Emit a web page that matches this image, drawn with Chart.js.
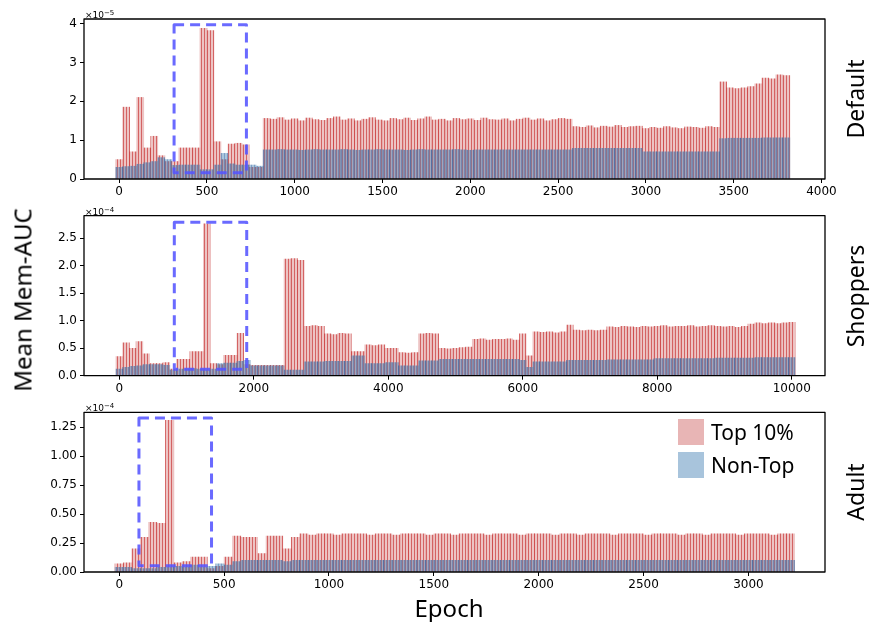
<!DOCTYPE html>
<html>
<head>
<meta charset="utf-8">
<script src="https://cdn.jsdelivr.net/npm/chart.js@4.4.0/dist/chart.umd.min.js"></script>
<style>
  body { margin: 0; background: #fff; }
  #fig { position: relative; width: 869px; height: 622px; background: #fff; font-family: "Noto Sans", sans-serif; color: #000; }
  .panel { position: absolute; left: 0; width: 869px; }
  .rot { position: absolute; transform: translate(-50%, -50%) rotate(-90deg); white-space: nowrap; font-size: 23px; }
  .expo { position: absolute; left: 85px; font-family: "DejaVu Sans", sans-serif; font-size: 9px; line-height: 10px; }
  .expo sup { font-size: 7px; vertical-align: 3px; }
  .legend { position: absolute; left: 678px; top: 419px; font-size: 21px; }
  .legend div { display: flex; align-items: center; height: 26px; margin-bottom: 7px; }
  .legend span { display: inline-block; width: 26px; height: 26px; margin-right: 7px; }
</style>
</head>
<body>
<div id="fig">
  <div class="panel" style="top:0;height:200px"><canvas id="defaultChart" width="869" height="200"></canvas></div>
  <div class="panel" style="top:200px;height:200px"><canvas id="shoppersChart" width="869" height="200"></canvas></div>
  <div class="panel" style="top:400px;height:222px"><canvas id="adultChart" width="869" height="222"></canvas></div>

  <div class="expo" style="top:8px">×10<sup>−5</sup></div>
  <div class="expo" style="top:205px">×10<sup>−4</sup></div>
  <div class="expo" style="top:401px">×10<sup>−4</sup></div>

  <div class="rot" style="left:22px;top:300px;font-size:24px">Mean Mem-AUC</div>
  <div style="position:absolute;left:449px;top:607px;transform:translate(-50%,-50%);font-size:24px">Epoch</div>
  <div class="rot" style="left:855px;top:99px">Default</div>
  <div class="rot" style="left:855px;top:296px">Shoppers</div>
  <div class="rot" style="left:855px;top:492px">Adult</div>

  <div class="legend">
    <div><span style="background:#e8b5b5"></span>Top 10%</div>
    <div><span style="background:#a8c4dc"></span>Non-Top</div>
  </div>
</div>

<script>
// ── DATA ──────────────────────────────────────────────
// One bar every <step> epochs.

// Default (×1e-5), bars at 0, 40, ... 3800
const defaultStep = 40;
const defaultTop = [
  0.5, 1.85, 0.7, 2.1, 0.8, 1.1, 0.6, 0.45, 0.45, 0.8, 0.8, 0.8, 3.88, 3.82, 0.96, 0.5, 0.9, 0.92, 0.88, 0.3, 0.3, 1.56,
  1.54, 1.58, 1.52, 1.55, 1.5, 1.57, 1.53, 1.51, 1.56, 1.6, 1.52, 1.55, 1.5, 1.54, 1.58, 1.52,
  1.5, 1.56, 1.53, 1.57, 1.51, 1.55, 1.6, 1.52, 1.54, 1.5, 1.56, 1.53, 1.55, 1.51, 1.57, 1.53,
  1.52, 1.55, 1.5, 1.54, 1.57, 1.52, 1.55, 1.5, 1.53, 1.56, 1.54,
  1.35, 1.33, 1.37, 1.32, 1.36, 1.34, 1.38, 1.33, 1.35, 1.36,
  1.3, 1.33, 1.31, 1.35, 1.32, 1.3, 1.34, 1.33, 1.31, 1.35, 1.33,
  2.5, 2.35, 2.33, 2.35, 2.38, 2.45, 2.6, 2.58, 2.68, 2.66
];
const defaultNonTop = [
  0.3, 0.32, 0.33, 0.38, 0.42, 0.45, 0.55, 0.5, 0.35, 0.36, 0.36, 0.36, 0.24, 0.24, 0.36, 0.66, 0.39, 0.36, 0.36, 0.36, 0.33, 0.75,
  0.75, 0.76, 0.75, 0.75, 0.74, 0.75, 0.76, 0.75, 0.75, 0.75, 0.76, 0.75, 0.74, 0.75, 0.75, 0.76,
  0.75, 0.75, 0.75, 0.74, 0.75, 0.76, 0.75, 0.75, 0.75, 0.75, 0.76, 0.75, 0.74, 0.75, 0.75, 0.75,
  0.75, 0.75, 0.75, 0.75, 0.75, 0.75, 0.75, 0.75, 0.75, 0.75, 0.75,
  0.79, 0.79, 0.79, 0.79, 0.79, 0.79, 0.79, 0.79, 0.79, 0.79,
  0.7, 0.7, 0.7, 0.7, 0.7, 0.7, 0.7, 0.7, 0.7, 0.7, 0.7,
  1.04, 1.05, 1.05, 1.05, 1.05, 1.05, 1.06, 1.06, 1.06, 1.06
];

// Shoppers (×1e-4), bars at 0, 100, ... 10000
const shoppersStep = 100;
const shoppersTop = [
  0.35, 0.6, 0.5, 0.62, 0.4, 0.22, 0.22, 0.24, 0.12, 0.3,
  0.3, 0.44, 0.44, 2.76, 0.22, 0.2, 0.37, 0.37, 0.77, 0.2,
  0.19, 0.19, 0.19, 0.19, 0.19, 2.12, 2.13, 2.1, 0.9, 0.91,
  0.9, 0.76, 0.75, 0.77, 0.76, 0.44, 0.44, 0.56, 0.55, 0.56,
  0.5, 0.5, 0.42, 0.41, 0.42, 0.76, 0.77, 0.76, 0.5, 0.49,
  0.5, 0.51, 0.52, 0.66, 0.67, 0.65, 0.66, 0.66, 0.67, 0.65,
  0.76, 0.36, 0.8, 0.79, 0.8, 0.78, 0.8, 0.92, 0.83, 0.82,
  0.83, 0.82, 0.83, 0.89, 0.88, 0.9, 0.89, 0.88, 0.9, 0.89,
  0.9, 0.91, 0.89, 0.9, 0.9, 0.91, 0.89, 0.9, 0.91, 0.9,
  0.89, 0.9, 0.88, 0.9, 0.94, 0.96, 0.95, 0.96, 0.95, 0.96,
  0.97
];
const shoppersNonTop = [
  0.12, 0.15, 0.17, 0.18, 0.2, 0.2, 0.2, 0.19, 0.1, 0.12,
  0.12, 0.13, 0.12, 0.1, 0.12, 0.22, 0.23, 0.23, 0.26, 0.28,
  0.18, 0.18, 0.18, 0.18, 0.18, 0.1, 0.1, 0.1, 0.25, 0.25,
  0.25, 0.26, 0.26, 0.26, 0.26, 0.36, 0.36, 0.22, 0.22, 0.22,
  0.24, 0.24, 0.18, 0.18, 0.18, 0.27, 0.27, 0.27, 0.3, 0.3,
  0.3, 0.3, 0.3, 0.3, 0.3, 0.3, 0.3, 0.3, 0.3, 0.3,
  0.28, 0.15, 0.25, 0.25, 0.25, 0.25, 0.25, 0.28, 0.28, 0.28,
  0.28, 0.28, 0.28, 0.29, 0.29, 0.29, 0.29, 0.29, 0.29, 0.29,
  0.31, 0.31, 0.31, 0.31, 0.31, 0.31, 0.31, 0.31, 0.31, 0.32,
  0.32, 0.32, 0.32, 0.32, 0.32, 0.33, 0.33, 0.33, 0.33, 0.33,
  0.33
];

// Adult (×1e-4), bars at 0, 40, ... 3200
const adultStep = 40;
const adultTop = [
  0.07, 0.08, 0.2, 0.3, 0.43, 0.42, 1.31, 0.08, 0.09, 0.13, 0.13, 0.03, 0.05, 0.13, 0.31, 0.3, 0.3, 0.16, 0.31, 0.31, 0.2, 0.3,
  0.33, 0.32, 0.33, 0.33, 0.32, 0.33, 0.33, 0.33, 0.32, 0.33,
  0.33, 0.32, 0.33, 0.33, 0.33, 0.32, 0.33, 0.33, 0.32, 0.33,
  0.33, 0.33, 0.32, 0.33, 0.33, 0.33, 0.32, 0.33, 0.33, 0.33,
  0.32, 0.33, 0.33, 0.32, 0.33, 0.33, 0.33, 0.32, 0.33, 0.33,
  0.33, 0.32, 0.33, 0.33, 0.33, 0.32, 0.33, 0.33, 0.32, 0.33,
  0.33, 0.33, 0.32, 0.33, 0.33, 0.33, 0.32, 0.33, 0.33
];
const adultNonTop = [
  0.04, 0.04, 0.03, 0.03, 0.03, 0.04, 0.04, 0.05, 0.04, 0.06, 0.04, 0.05, 0.07, 0.06, 0.09, 0.1, 0.1, 0.1, 0.1, 0.1, 0.09, 0.1,
  0.1, 0.1, 0.1, 0.1, 0.1, 0.1, 0.1, 0.1, 0.1, 0.1,
  0.1, 0.1, 0.1, 0.1, 0.1, 0.1, 0.1, 0.1, 0.1, 0.1,
  0.1, 0.1, 0.1, 0.1, 0.1, 0.1, 0.1, 0.1, 0.1, 0.1,
  0.1, 0.1, 0.1, 0.1, 0.1, 0.1, 0.1, 0.1, 0.1, 0.1,
  0.1, 0.1, 0.1, 0.1, 0.1, 0.1, 0.1, 0.1, 0.1, 0.1,
  0.1, 0.1, 0.1, 0.1, 0.1, 0.1, 0.1, 0.1, 0.1
];

// Tick labels
const defaultXTicks  = [0, 500, 1000, 1500, 2000, 2500, 3000, 3500, 4000];
const defaultYTicks  = [0, 1, 2, 3, 4];
const shoppersXTicks = [0, 2000, 4000, 6000, 8000, 10000];
const shoppersYTicks = [0, 0.5, 1, 1.5, 2, 2.5];
const adultXTicks    = [0, 500, 1000, 1500, 2000, 2500, 3000];
const adultYTicks    = [0, 0.25, 0.5, 0.75, 1, 1.25];

// Dashed highlight boxes: [epochFrom, epochTo, yFrom, yTo]
const defaultBox  = [313, 725, 0.16, 3.97];
const shoppersBox = [818, 1895, 0.116, 2.79];
const adultBox    = [94, 440, 0.054, 1.33];


// ── STRIPED FILLS ─────────────────────────────────────
// The original bars are so thin that they read as pink with dark red
// lines every few pixels, so fill the bars with a small repeating pattern.
function stripes(line, fill, phase) {
  const c = document.createElement('canvas');
  c.width = 3; c.height = 4;
  const g = c.getContext('2d');
  g.fillStyle = fill;
  g.fillRect(0, 0, 3, 4);
  g.clearRect(phase, 0, 1, 4);
  g.fillStyle = line;
  g.fillRect(phase, 0, 1, 4);
  return g.createPattern(c, 'repeat');
}


// ── PLUGIN: axes frame + dashed box ───────────────────
const frameBox = {
  id: 'frameBox',
  afterDatasetsDraw(chart, args, opts) {
    const { ctx, chartArea: a, scales: { x, y } } = chart;
    const [e0, e1, v0, v1] = opts.box;
    const left = x.getPixelForValue(e0), right = x.getPixelForValue(e1);
    const top = y.getPixelForValue(v1), bottom = y.getPixelForValue(v0);

    ctx.save();
    ctx.strokeStyle = 'rgba(85,85,255,0.88)';
    ctx.lineWidth = 3;
    ctx.lineJoin = 'round';
    ctx.setLineDash([10, 6]);
    ctx.strokeRect(left, top, right - left, bottom - top);

    ctx.setLineDash([]);
    ctx.strokeStyle = '#000';
    ctx.lineWidth = 1.3;
    ctx.strokeRect(a.left, a.top, a.width, a.height);
    ctx.restore();
  }
};

// Turn a value list into {x, y} points along the epoch axis
function toPoints(values, step) {
  return values.map((v, i) => ({ x: i * step, y: v }));
}


// ── BUILD ONE PANEL ───────────────────────────────────
function buildPanel(id, p) {
  const tickFont = { family: 'DejaVu Sans', size: 12 };
  const common = {
    grouped: false,
    barPercentage: 1,
    categoryPercentage: 1,
    borderWidth: 0
  };
  const topFill = stripes('rgba(200,55,55,0.78)', 'rgba(205,92,92,0.36)', 0);
  const nonFill = stripes('rgba(45,95,160,0.62)', 'rgba(70,130,180,0.46)', 2);

  new Chart(document.getElementById(id), {
    type: 'bar',
    data: {
      datasets: [
        { ...common, label: 'Non-Top', data: toPoints(p.nonTop, p.step),
          backgroundColor: nonFill, order: 1 },
        { ...common, label: 'Top 10%', data: toPoints(p.top, p.step),
          backgroundColor: topFill, order: 2 }
      ]
    },
    options: {
      responsive: false,
      animation: false,
      layout: { padding: { left: 0, right: 44, top: p.padTop, bottom: 0 } },
      plugins: {
        legend: { display: false },
        tooltip: { enabled: false },
        frameBox: { box: p.box }
      },
      scales: {
        x: {
          type: 'linear', min: p.xMin, max: p.xMax, offset: false,
          border: { display: false },
          grid: { drawOnChartArea: false, drawTicks: true, tickLength: 4, color: '#000', offset: false },
          ticks: { color: '#000', font: tickFont, padding: 2, maxRotation: 0, callback: v => String(v) },
          afterBuildTicks: s => { s.ticks = p.xTicks.map(v => ({ value: v })); },
          afterFit: s => { s.height = p.axisH; }
        },
        y: {
          type: 'linear', min: 0, max: p.yMax,
          border: { display: false },
          grid: { drawOnChartArea: false, drawTicks: true, tickLength: 4, color: '#000' },
          ticks: { color: '#000', font: tickFont, padding: 3, callback: v => Number(v).toFixed(p.dec) },
          afterBuildTicks: s => { s.ticks = p.yTicks.map(v => ({ value: v })); },
          afterFit: s => { s.width = 84; }
        }
      }
    },
    plugins: [frameBox]
  });
}


// ── INITIALIZE ────────────────────────────────────────
function init() {
  buildPanel('defaultChart', {
    step: defaultStep, top: defaultTop, nonTop: defaultNonTop,
    xMin: -200, xMax: 4020, yMax: 4.12, dec: 0,
    xTicks: defaultXTicks, yTicks: defaultYTicks, box: defaultBox,
    padTop: 19, axisH: 21
  });
  buildPanel('shoppersChart', {
    step: shoppersStep, top: shoppersTop, nonTop: shoppersNonTop,
    xMin: -525, xMax: 10495, yMax: 2.91, dec: 1,
    xTicks: shoppersXTicks, yTicks: shoppersYTicks, box: shoppersBox,
    padTop: 15.7, axisH: 24.3
  });
  buildPanel('adultChart', {
    step: adultStep, top: adultTop, nonTop: adultNonTop,
    xMin: -168, xMax: 3365, yMax: 1.38, dec: 2,
    xTicks: adultXTicks, yTicks: adultYTicks, box: adultBox,
    padTop: 12.3, axisH: 50
  });
}

window.onload = init;
</script>
</body>
</html>
